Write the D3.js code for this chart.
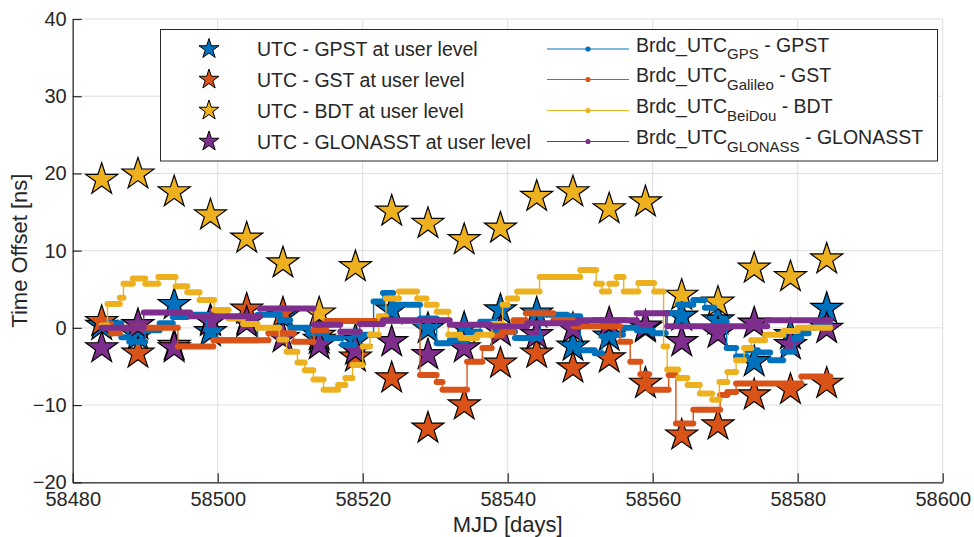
<!DOCTYPE html>
<html>
<head>
<meta charset="utf-8">
<script src="https://cdn.jsdelivr.net/npm/d3@7"></script>
<style>
  body { margin: 0; background: #fff; }
  svg text { font-family: "Liberation Sans", Arial, Helvetica, sans-serif; fill: #262626; }
</style>
</head>
<body>
<div id="chart"></div>
<script>

// user level offsets, one star every five days
const userMjd = [58484, 58489, 58494, 58499, 58504, 58509, 58514, 58519, 58524, 58529, 58534,
                 58539, 58544, 58549, 58554, 58559, 58564, 58569, 58574, 58579, 58584];
const gpsUser = [0.3, -1.0, 3.0, -0.5, 1.0, 1.5, -1.5, -1.6, 2.3, -0.1, 0.0,
                 2.3, 1.9, -2.4, -1.1, 0.0, 1.5, 1.0, -4.4, -0.9, 2.5];
const gstUser = [0.8, -3.3, -2.3, 1.0, 2.4, 1.9, -1.0, -3.8, -6.5, -13.0, -10.0,
                 -4.6, -3.3, -5.2, -3.9, -7.2, -13.9, -12.6, -8.7, -8.0, -7.2];
const bdtUser = [19.2, 19.9, 17.6, 14.6, 11.6, 8.4, 1.9, 7.9, 15.1, 13.5, 11.4,
                 12.9, 17.0, 17.6, 15.4, 16.3, 4.2, 3.3, 7.7, 6.6, 8.9];
const gloUser = [-2.6, 0.4, -2.6, 0.8, 0.7, -1.3, -2.2, -2.9, -1.8, -3.5, -2.6,
                 -0.5, -0.9, -0.1, 0.6, 0.2, -1.8, -0.7, 0.6, -2.2, -0.1];

// broadcast offsets as steps: [start MJD, offset ns]
const gpsBrdc = [[58484.0, 0.3], [58484.8, 0.6], [58486.7, -1.2], [58487.8, -1.8], [58490.0, -0.3],
  [58492.0, 0.6], [58493.8, 1.4], [58495.8, 1.7], [58498.5, -0.3], [58500.0, -1.6], [58505.5, 1.7],
  [58508.6, 1.0], [58510.0, 0.0], [58512.5, -0.7], [58515.0, -1.3], [58517.2, -2.2], [58518.8, -0.9],
  [58521.5, 3.4], [58522.8, 4.5], [58524.2, 3.0], [58527.9, 1.2], [58530.2, -2.0], [58532.0, -1.6],
  [58534.4, -0.5], [58536.2, 0.8], [58538.2, -0.5], [58541.0, -1.3], [58544.5, 1.7], [58548.2, 1.5],
  [58550.0, -2.9], [58552.0, -3.3], [58553.0, -1.1], [58554.6, -0.9], [58555.9, 0.0], [58557.8, -0.3],
  [58560.0, -0.7], [58561.8, 1.9], [58563.5, 3.0], [58565.6, 3.6], [58567.2, 2.6], [58568.5, 0.8],
  [58570.2, -2.6], [58571.5, -3.7], [58573.0, -2.9], [58574.5, -3.2], [58576.2, -4.2], [58578.0, -3.1],
  [58579.5, -1.3], [58580.5, -0.7], [58581.5, 0.0], [58582.5, 0.8]];
const gstBrdc = [[58484.0, 0.5], [58485.3, -0.7], [58486.5, 0.0], [58494.5, -2.4], [58499.4, -1.6],
  [58507.0, -0.7], [58510.5, -1.8], [58513.2, -0.3], [58515.0, 0.9], [58527.9, -6.1], [58530.2, -7.0],
  [58531.0, -8.0], [58534.4, -4.4], [58536.5, -2.6], [58537.8, -1.0], [58539.2, -0.5], [58540.8, 1.0],
  [58542.5, 1.9], [58546.3, 1.0], [58549.1, 0.2], [58555.5, -1.8], [58556.9, -4.4], [58558.3, -6.0],
  [58559.5, -8.0], [58562.2, -6.1], [58563.2, -12.4], [58565.6, -10.6], [58569.3, -8.7], [58570.3, -8.3],
  [58571.5, -7.2], [58580.5, -6.3]];
const bdtBrdc = [[58484.0, 0.3], [58484.8, 3.1], [58486.5, 3.9], [58487.0, 5.7], [58488.3, 6.4],
  [58490.0, 5.7], [58491.8, 6.6], [58494.2, 5.4], [58495.8, 4.6], [58497.5, 3.6], [58499.5, 2.3],
  [58501.5, 1.2], [58503.5, 0.5], [58505.5, 0.0], [58508.5, -1.5], [58509.5, -3.1], [58511.0, -4.5],
  [58512.0, -5.5], [58513.2, -6.7], [58514.6, -8.0], [58516.6, -7.4], [58517.6, -6.5], [58518.6, -4.8],
  [58520.0, -2.4], [58521.0, -0.9], [58522.2, 1.5], [58523.2, 3.8], [58525.0, 4.7], [58527.5, 3.8],
  [58528.8, 3.0], [58530.2, 2.1], [58531.8, -0.9], [58533.5, -1.3], [58535.8, -0.9], [58537.8, 0.5],
  [58539.3, 3.0], [58540.0, 3.8], [58541.3, 4.7], [58544.4, 6.6], [58550.0, 7.5], [58552.2, 5.7],
  [58553.0, 4.7], [58554.0, 5.7], [58555.0, 6.6], [58556.0, 4.7], [58558.0, 5.8], [58560.2, 4.7],
  [58561.5, -2.4], [58562.0, -5.4], [58563.5, -6.5], [58564.8, -7.4], [58566.5, -8.5], [58568.2, -9.3],
  [58569.2, -7.0], [58570.3, -5.7], [58571.5, -4.2], [58572.6, -2.6], [58573.6, -1.6], [58575.5, -0.9],
  [58578.0, -0.4], [58580.0, 0.0]];
const gloBrdc = [[58484.0, 0.0], [58489.8, 2.0], [58496.2, 1.5], [58505.8, 2.5], [58513.2, 0.4],
  [58516.9, -0.5], [58519.6, 0.5], [58522.8, 1.0], [58532.0, 0.4], [58537.6, 0.2], [58542.7, 0.6],
  [58549.7, 1.0], [58557.8, 1.9], [58562.0, 0.2], [58575.8, 1.0]];
const brdcEnd = 58584.5;

const xTicks = [58480, 58500, 58520, 58540, 58560, 58580, 58600];
const yTicks = [-20, -10, 0, 10, 20, 30, 40];

const userLabels = ['UTC - GPST at user level', 'UTC - GST at user level',
                    'UTC - BDT at user level', 'UTC - GLONASST at user level'];
const brdcSubs = ['GPS', 'Galileo', 'BeiDou', 'GLONASS'];
const brdcTails = [' - GPST', ' - GST', ' - BDT', ' - GLONASST'];

// matlab default colour order
const colors = ['#0072BD', '#D95319', '#EDB120', '#7E2F8E'];

const margin = { top: 19, right: 31.3, bottom: 54.7, left: 72.7 },
width = 974 - margin.left - margin.right,
height = 537 - margin.top - margin.bottom;

const svg = d3.select('#chart')
    .append('svg')
    .attr('width', width + margin.left + margin.right)
    .attr('height', height + margin.top + margin.bottom);

const group = svg
    .append('g')
    .attr('transform', `translate(${margin.left} ${margin.top})`);

const x = d3.scaleLinear().domain([58480, 58600]).range([0, width]);
const y = d3.scaleLinear().domain([-20, 40]).range([height, 0]);

// GRID
group.append('g')
    .selectAll('line')
    .data(xTicks)
    .enter()
    .append('line')
    .attr('x1', d => x(d)).attr('x2', d => x(d))
    .attr('y1', 0).attr('y2', height)
    .attr('stroke', '#dedede')
    .attr('stroke-width', 1);

group.append('g')
    .selectAll('line')
    .data(yTicks)
    .enter()
    .append('line')
    .attr('x1', 0).attr('x2', width)
    .attr('y1', d => y(d)).attr('y2', d => y(d))
    .attr('stroke', '#dedede')
    .attr('stroke-width', 1);

// AXES, ticks pointing inside like matlab
const xAxis = group.append('g')
    .attr('transform', `translate(0 ${height})`)
    .call(d3.axisBottom(x).tickValues(xTicks).tickFormat(d3.format('d'))
        .tickSizeInner(-9).tickSizeOuter(0).tickPadding(10));

const yAxis = group.append('g')
    .call(d3.axisLeft(y).tickValues(yTicks).tickFormat(d3.format('d'))
        .tickSizeInner(-9).tickSizeOuter(0).tickPadding(6));

[xAxis, yAxis].forEach(a => {
    a.select('.domain').attr('stroke', '#262626').attr('stroke-width', 1.2);
    a.selectAll('.tick line').attr('stroke', '#262626').attr('stroke-width', 1.2);
    a.selectAll('.tick text')
        .attr('font-size', 20)
        .attr('font-family', '"Liberation Sans", Arial, sans-serif')
        .attr('fill', '#262626');
});

// axis titles
svg.append('text')
    .attr('x', margin.left + width / 2)
    .attr('y', 532)
    .attr('text-anchor', 'middle')
    .attr('font-size', 22)
    .text('MJD [days]');

svg.append('text')
    .attr('transform', `translate(27 ${margin.top + height / 2}) rotate(-90)`)
    .attr('text-anchor', 'middle')
    .attr('font-size', 22)
    .text('Time Offset [ns]');

// STARS (user level)
const star = d3.symbol().type(d3.symbolStar);
const userSeries = [gpsUser, gstUser, bdtUser, gloUser];

userSeries.forEach((values, s) => {
    group.append('g')
        .selectAll('path')
        .data(values)
        .enter()
        .append('path')
        .attr('d', star.size(317)())
        .attr('transform', (d, i) => `translate(${x(userMjd[i])} ${y(d)})`)
        .attr('fill', colors[s])
        .attr('stroke', '#000')
        .attr('stroke-width', 1.2)
        .attr('stroke-linejoin', 'miter');
});

// BROADCAST LINES
// thin step line, then the dense sample dots as thick rounded bars on each step
const brdcSeries = [gpsBrdc, gstBrdc, bdtBrdc, gloBrdc];
const stepLine = d3.line()
    .x(d => x(d[0]))
    .y(d => y(d[1]))
    .curve(d3.curveStepAfter);

brdcSeries.forEach((steps, s) => {
    const pts = steps.concat([[brdcEnd, steps[steps.length - 1][1]]]);
    const g = group.append('g');

    g.append('path')
        .attr('d', stepLine(pts))
        .attr('fill', 'none')
        .attr('stroke', colors[s])
        .attr('stroke-width', 1.4);

    g.selectAll('line')
        .data(steps)
        .enter()
        .append('line')
        .attr('x1', d => x(d[0]))
        .attr('x2', (d, i) => x(pts[i + 1][0]))
        .attr('y1', d => y(d[1]))
        .attr('y2', d => y(d[1]))
        .attr('stroke', colors[s])
        .attr('stroke-width', 6)
        .attr('stroke-linecap', 'round');
});

// LEGEND
const legend = svg.append('g');
legend.append('rect')
    .attr('x', 160.5).attr('y', 29.5)
    .attr('width', 777).attr('height', 131.5)
    .attr('fill', '#fff')
    .attr('stroke', '#262626')
    .attr('stroke-width', 1);

const rowY = [49, 79.5, 110.5, 141.5];

const leftItems = legend.selectAll('g.user')
    .data(userLabels)
    .enter()
    .append('g')
    .attr('class', 'user')
    .attr('transform', (d, i) => `translate(0 ${rowY[i]})`);

leftItems.append('path')
    .attr('d', star.size(124)())
    .attr('transform', 'translate(209 0)')
    .attr('fill', (d, i) => colors[i])
    .attr('stroke', '#000')
    .attr('stroke-width', 1);

leftItems.append('text')
    .attr('x', 257)
    .attr('y', 7)
    .attr('font-size', 19.5)
    .text(d => d);

const rightItems = legend.selectAll('g.brdc')
    .data(brdcSubs)
    .enter()
    .append('g')
    .attr('class', 'brdc')
    .attr('transform', (d, i) => `translate(0 ${rowY[i]})`);

rightItems.append('line')
    .attr('x1', 547).attr('x2', 629)
    .attr('y1', 0).attr('y2', 0)
    .attr('stroke', (d, i) => colors[i])
    .attr('stroke-width', 1.2);

rightItems.append('circle')
    .attr('cx', 588).attr('cy', 0)
    .attr('r', 2.6)
    .attr('fill', (d, i) => colors[i]);

const brdcText = rightItems.append('text')
    .attr('x', 636)
    .attr('y', 2.7)
    .attr('font-size', 19.5);

brdcText.append('tspan').text('Brdc_UTC');
brdcText.append('tspan').attr('dy', 7.6).attr('font-size', 15).text(d => d);
brdcText.append('tspan').attr('dy', -7.6).text((d, i) => brdcTails[i]);

</script>
</body>
</html>
